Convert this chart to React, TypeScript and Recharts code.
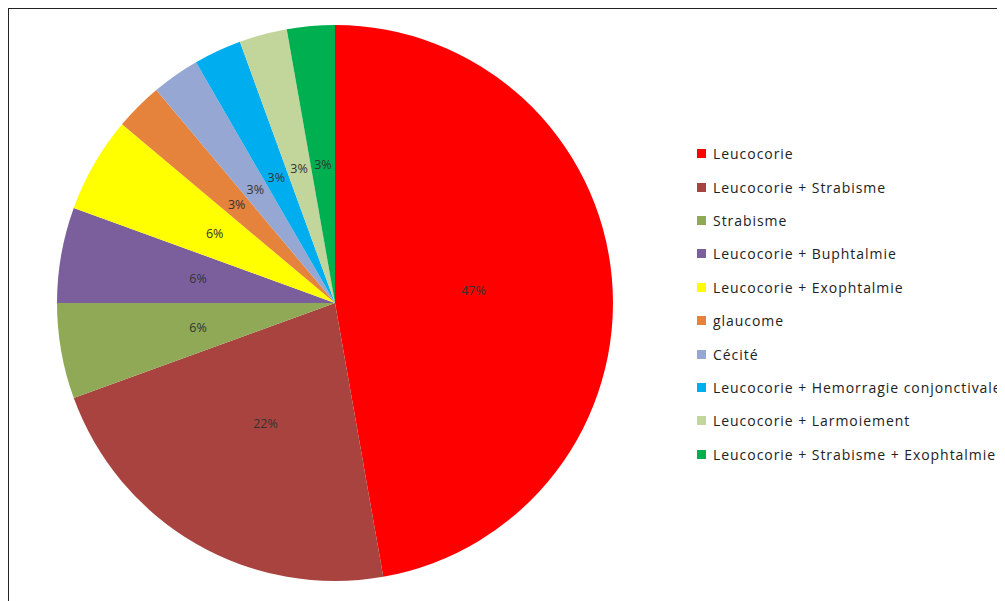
import { PieChart, Pie, Cell, Legend } from 'recharts';

// Symptom categories and patient counts (total 36)
const categories = [
  'Leucocorie',
  'Leucocorie + Strabisme',
  'Strabisme',
  'Leucocorie + Buphtalmie',
  'Leucocorie + Exophtalmie',
  'glaucome',
  'Cécité',
  'Leucocorie + Hemorragie conjonctivale',
  'Leucocorie + Larmoiement',
  'Leucocorie + Strabisme + Exophtalmie',
];
const counts = [17, 8, 2, 2, 2, 1, 1, 1, 1, 1];
const colors = [
  '#FF0000',
  '#A8433F',
  '#8FA957',
  '#7B5F9C',
  '#FFFF00',
  '#E5833C',
  '#95A7D2',
  '#00AEEF',
  '#C2D69B',
  '#00B050',
];

const total = counts.reduce((s, v) => s + v, 0);
const data = categories.map((name, i) => ({ name, value: counts[i], color: colors[i] }));

const RAD = Math.PI / 180;
const FONT = '"Open Sans", sans-serif';

const renderLabel = ({ cx, cy, midAngle, outerRadius, value }: any) => {
  const r = outerRadius * 0.5;
  const x = cx + r * Math.cos(-midAngle * RAD);
  const y = cy + r * Math.sin(-midAngle * RAD);
  return (
    <text
      x={x}
      y={y}
      fill="#333"
      fontSize={12.5}
      fontFamily={FONT}
      textAnchor="middle"
      dominantBaseline="central"
    >
      {`${Math.round((value / total) * 100)}%`}
    </text>
  );
};

const LegendList = () => (
  <div style={{ fontFamily: FONT, fontSize: 14, letterSpacing: 0.95, color: '#222' }}>
    {data.map((d) => (
      <div key={d.name} style={{ display: 'flex', alignItems: 'center', height: 33.4, whiteSpace: 'nowrap' }}>
        <span style={{ width: 9, height: 9, background: d.color, marginRight: 7, flex: 'none' }} />
        <span>{d.name}</span>
      </div>
    ))}
  </div>
);

export default function App() {
  return (
    <div
      style={{
        width: 996,
        height: 592,
        borderTop: '1px solid #222',
        borderLeft: '1px solid #222',
        overflow: 'hidden',
        background: '#fff',
      }}
    >
      <PieChart width={996} height={592} margin={{ top: 0, right: 0, bottom: 0, left: 0 }}>
        <Pie
          data={data}
          dataKey="value"
          nameKey="name"
          cx={326}
          cy={294}
          outerRadius={278}
          startAngle={90}
          endAngle={-270}
          stroke="none"
          label={renderLabel}
          labelLine={false}
          isAnimationActive={false}
        >
          {data.map((d, i) => (
            <Cell key={`cell-${i}`} fill={d.color} />
          ))}
        </Pie>
        <Legend
          layout="vertical"
          align="right"
          verticalAlign="top"
          wrapperStyle={{ left: 688, top: 128, width: 330 }}
          content={() => <LegendList />}
        />
      </PieChart>
    </div>
  );
}
